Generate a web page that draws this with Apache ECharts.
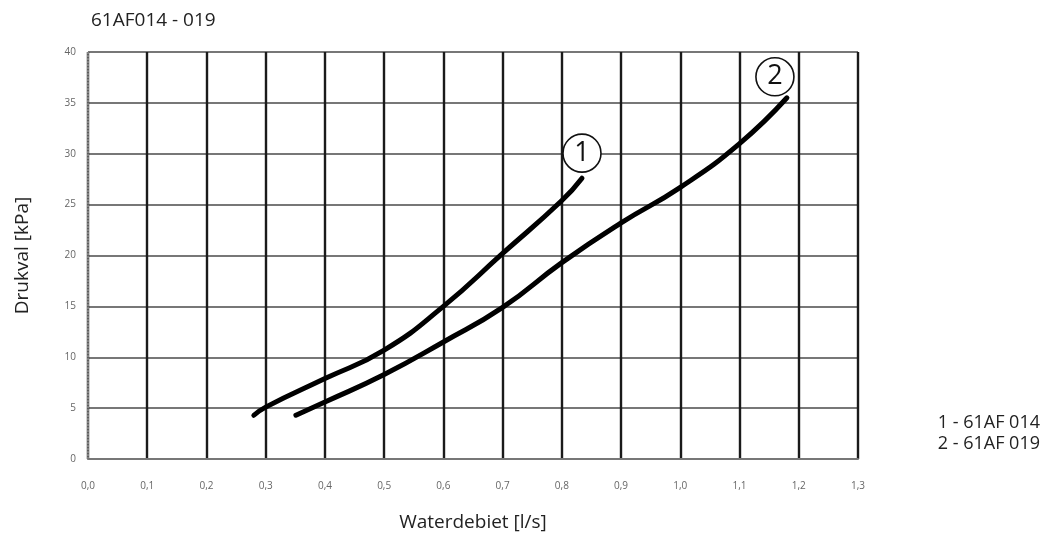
<!DOCTYPE html>
<html>
<head>
<meta charset="utf-8">
<script src="https://cdn.jsdelivr.net/npm/echarts@6/dist/echarts.min.js"></script>
<style>
  html, body { margin: 0; padding: 0; background: #fff; }
  #chart { width: 1043px; height: 537px; }
</style>
</head>
<body>
<div id="chart"></div>
<script>
// 61AF 014 / 019 - drukval tegen waterdebiet
var curve1 = [
    [0.28, 4.3], [0.30, 5.1], [0.40, 7.9], [0.50, 10.7], [0.60, 15.0],
    [0.70, 20.2], [0.80, 25.4], [0.834, 27.6]
];
var curve2 = [
    [0.351, 4.3], [0.40, 5.6], [0.50, 8.3], [0.60, 11.5], [0.70, 14.9],
    [0.80, 19.3], [0.90, 23.2], [1.00, 26.7], [1.10, 31.0], [1.18, 35.5]
];
var curveNames = ['1', '2'];
var legendLines = ['1 - 61AF 014', '2 - 61AF 019'];

var myChart = echarts.init(document.getElementById('chart'));

function curveSeries(data, name, offset) {
    return {
        type: 'line',
        name: name,
        data: data,
        smooth: true,
        symbol: 'none',
        lineStyle: {color: '#000', width: 5, cap: 'round'},
        markPoint: {
            symbol: 'circle',
            symbolSize: 38,
            symbolOffset: offset,
            itemStyle: {color: '#fff', borderColor: '#111', borderWidth: 1.6},
            label: {
                show: true,
                position: 'inside',
                formatter: name,
                color: '#111',
                fontSize: 27,
                fontFamily: 'Open Sans'
            },
            data: [{coord: data[data.length - 1]}]
        }
    };
}

var option = {
    animation: false,
    grid: {left: 88, right: 185, top: 52, bottom: 77},
    title: {
        text: '61AF014 - 019',
        left: 86,
        top: 6,
        textStyle: {fontSize: 19, fontWeight: 'normal', color: '#222', fontFamily: 'Open Sans'}
    },
    xAxis: {
        type: 'value',
        min: 0,
        max: 1.3,
        interval: 0.1,
        name: 'Waterdebiet [l/s]',
        nameLocation: 'middle',
        nameGap: 54,
        nameTextStyle: {fontSize: 19, color: '#222', fontFamily: 'Open Sans'},
        axisLine: {show: true, lineStyle: {color: '#777', width: 2}},
        axisTick: {show: false},
        axisLabel: {
            margin: 22,
            fontSize: 10,
            color: '#666',
            fontFamily: 'Open Sans',
            formatter: function (v) { return v.toFixed(1).replace('.', ','); }
        },
        splitLine: {show: true, lineStyle: {color: '#1a1a1a', width: 2.4}}
    },
    yAxis: {
        type: 'value',
        min: 0,
        max: 40,
        interval: 5,
        name: 'Drukval [kPa]',
        nameLocation: 'middle',
        nameGap: 56,
        nameTextStyle: {fontSize: 19, color: '#222', fontFamily: 'Open Sans'},
        axisLine: {show: true, lineStyle: {color: '#aaa', width: 1.5, type: 'dotted'}},
        axisTick: {show: false},
        axisLabel: {margin: 12, fontSize: 10, color: '#666', fontFamily: 'Open Sans'},
        splitLine: {show: true, lineStyle: {color: '#777', width: 2}}
    },
    graphic: [{
        type: 'text',
        right: 3,
        top: 412,
        style: {
            text: legendLines.join('\n'),
            fontSize: 18,
            lineHeight: 21,
            fill: '#222',
            fontFamily: 'Open Sans',
            align: 'left'
        }
    }],
    series: [
        curveSeries(curve1, curveNames[0], [0, -25]),
        curveSeries(curve2, curveNames[1], [-12, -21])
    ]
};

myChart.setOption(option);
window.addEventListener('resize', function () {
    myChart.resize();
});
</script>
</body>
</html>
